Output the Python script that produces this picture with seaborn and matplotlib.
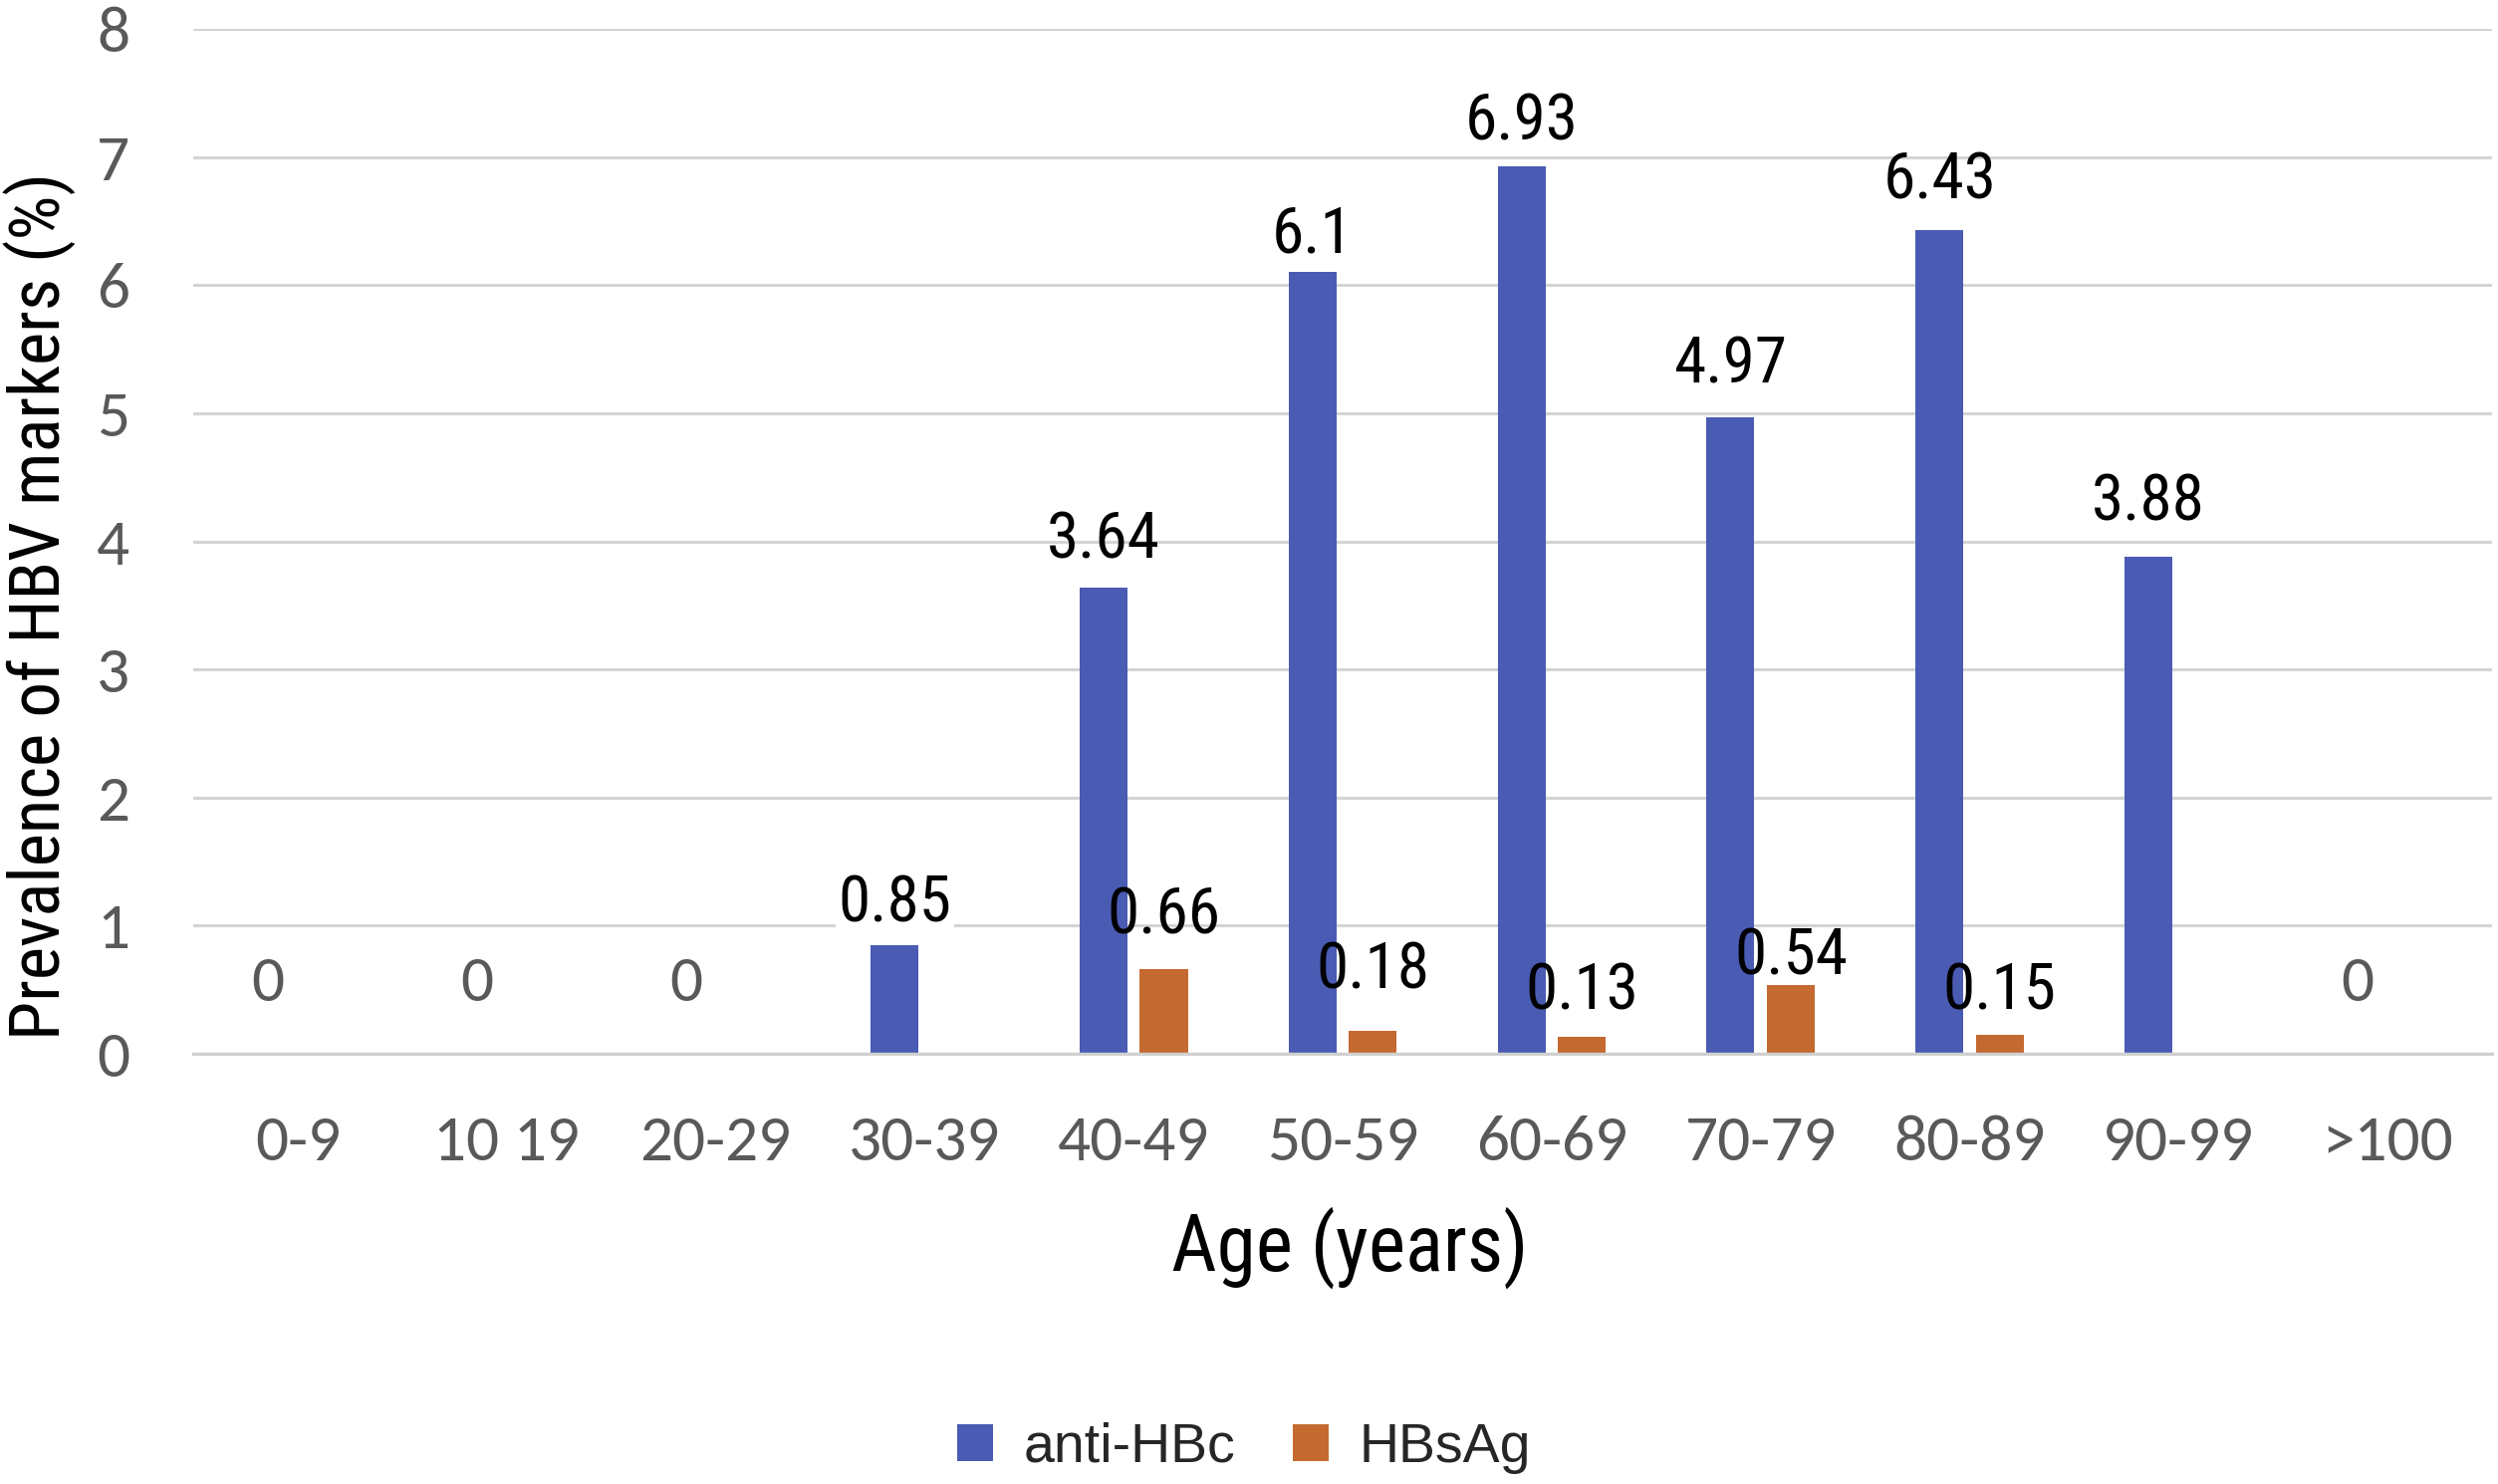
import matplotlib
matplotlib.use("Agg")
import matplotlib.pyplot as plt
import seaborn as sns
import pandas as pd
from matplotlib.patches import Patch

age_groups = ["0-9", "10 19", "20-29", "30-39", "40-49", "50-59", "60-69",
              "70-79", "80-89", "90-99", ">100"]
anti_hbc = [0, 0, 0, 0.85, 3.64, 6.1, 6.93, 4.97, 6.43, 3.88, 0]
hbsag = [0, 0, 0, 0, 0.66, 0.18, 0.13, 0.54, 0.15, 0, 0]
series_names = ["anti-HBc", "HBsAg"]
colors = ["#4A5BB4", "#C46A31"]
y_ticks = [0, 1, 2, 3, 4, 5, 6, 7, 8]

# label placement offsets above bar tops (points), as placed in the original chart
anti_label_dy = [51, 51, 51, 17, 21, 14.5, 19, 25, 22.5, 26, 51]
hbs_label_dy = [0, 0, 0, 0, 26, 30.5, 20, 7.5, 18, 0, 0]

df = pd.DataFrame({
    "age": age_groups * 2,
    "value": anti_hbc + hbsag,
    "series": [series_names[0]] * len(age_groups) + [series_names[1]] * len(age_groups),
})

sns.set_theme(style="white")
narrow = ["Roboto Condensed", "Liberation Sans", "DejaVu Sans"]
arial = ["Liberation Sans", "DejaVu Sans"]
calib = ["Carlito", "DejaVu Sans"]
tick_gray = "#595959"

fig = plt.figure(figsize=(25.08, 14.9), dpi=100)
ax = fig.add_axes([0.0774, 0.2899, 0.9202, 0.6906])

sns.barplot(data=df, x="age", y="value", hue="series", order=age_groups,
            hue_order=series_names, palette=colors, width=0.577, gap=0.206,
            saturation=1, ax=ax, legend=False, linewidth=0)

ax.set_xlim(-0.5, len(age_groups) - 0.5)
ax.set_ylim(0, 8)
ax.set_yticks(y_ticks)
ax.yaxis.grid(True, color="#D4D4D4", linewidth=2.2)
ax.set_axisbelow(True)
for s in ["top", "right", "left"]:
    ax.spines[s].set_visible(False)
ax.spines["bottom"].set_color("#D0D0D0")
ax.spines["bottom"].set_linewidth(2.4)
ax.tick_params(axis="both", length=0)
ax.tick_params(axis="x", pad=44)
ax.tick_params(axis="y", pad=46)
for lab in ax.get_xticklabels() + ax.get_yticklabels():
    lab.set_fontfamily(calib)
    lab.set_fontsize(47)
    lab.set_color(tick_gray)

ax.set_xlabel("Age (years)", fontsize=57, family=narrow, color="black", va="baseline")
ax.xaxis.set_label_coords(0.503, -0.2119)
ax.set_ylabel("Prevalence of HBV markers (%)", fontsize=51, family=narrow, color="black")
ax.yaxis.set_label_coords(-0.0511, 0.437)

for ci, (cont, vals, dys) in enumerate(zip(ax.containers, [anti_hbc, hbsag],
                                           [anti_label_dy, hbs_label_dy])):
    for bar, v, dy in zip(cont, vals, dys):
        cx = bar.get_x() + bar.get_width() / 2
        if v == 0:
            if ci == 0:
                ax.annotate("0", (cx, 0), xytext=(0, dy), textcoords="offset points",
                            ha="center", va="center", fontsize=47, family=calib,
                            color=tick_gray)
            continue
        kw = {}
        if v == 0.85:
            kw["bbox"] = dict(facecolor="white", edgecolor="none", pad=2)
        ax.annotate(f"{v:g}", (cx, v), xytext=(0, dy), textcoords="offset points",
                    ha="center", va="baseline", fontsize=47, family=narrow,
                    color="black", **kw)

handles = [Patch(facecolor=c, edgecolor="none") for c in colors]
fig.legend(handles, series_names, loc="center", bbox_to_anchor=(0.498, 1 - 1454 / 1490),
           ncol=2, frameon=False, prop={"family": arial, "size": 40},
           handlelength=0.65, handleheight=0.65, handletextpad=0.54,
           columnspacing=1.05)

fig.savefig("out.png", dpi=100, facecolor="white")
